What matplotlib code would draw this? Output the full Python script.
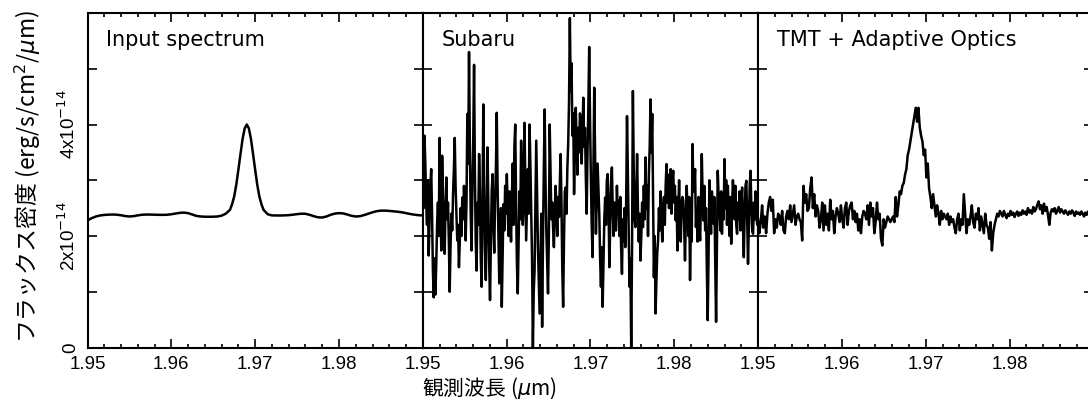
import numpy as np
import matplotlib.pyplot as plt
from matplotlib.ticker import MultipleLocator

plt.rcParams['font.family'] = ['Liberation Sans', 'Noto Sans CJK JP', 'DejaVu Sans']

# input (model) spectrum, flux in 1e-14 erg/s/cm2/um
wave_in = [1.9500, 1.9505, 1.9510, 1.9515, 1.9520, 1.9525, 1.9530, 1.9535, 1.9540, 1.9545,
           1.9550, 1.9555, 1.9560, 1.9565, 1.9570, 1.9575, 1.9580, 1.9585, 1.9590, 1.9595,
           1.9600, 1.9605, 1.9610, 1.9615, 1.9620, 1.9625, 1.9630, 1.9635, 1.9640, 1.9645,
           1.9650, 1.9655, 1.9660, 1.9665, 1.9670, 1.96725, 1.9675, 1.96775, 1.9680, 1.96825,
           1.9685, 1.96875, 1.9690, 1.96925, 1.9695, 1.96975, 1.9700, 1.97025, 1.9705, 1.97075,
           1.9710, 1.9715, 1.9720, 1.9725, 1.9730, 1.9735, 1.9740, 1.9745, 1.9750, 1.9755,
           1.9760, 1.9765, 1.9770, 1.9775, 1.9780, 1.9785, 1.9790, 1.9795, 1.9800, 1.9805,
           1.9810, 1.9815, 1.9820, 1.9825, 1.9830, 1.9835, 1.9840, 1.9845, 1.9850, 1.9855,
           1.9860, 1.9865, 1.9870, 1.9875, 1.9880, 1.9885, 1.9890, 1.9895, 1.9900]
flux_in = [2.280, 2.320, 2.350, 2.368, 2.378, 2.383, 2.385, 2.382, 2.372, 2.358,
           2.350, 2.356, 2.370, 2.381, 2.385, 2.384, 2.382, 2.380, 2.379, 2.381,
           2.390, 2.403, 2.415, 2.420, 2.410, 2.385, 2.360, 2.350, 2.346, 2.345,
           2.346, 2.350, 2.365, 2.400, 2.470, 2.570, 2.710, 2.920, 3.190, 3.470,
           3.740, 3.930, 4.000, 3.930, 3.740, 3.470, 3.190, 2.920, 2.710, 2.570,
           2.470, 2.390, 2.370, 2.368, 2.368, 2.370, 2.374, 2.382, 2.392, 2.400,
           2.398, 2.380, 2.355, 2.335, 2.332, 2.350, 2.380, 2.402, 2.410, 2.405,
           2.385, 2.362, 2.350, 2.355, 2.375, 2.400, 2.425, 2.445, 2.455, 2.455,
           2.450, 2.443, 2.435, 2.425, 2.410, 2.395, 2.382, 2.373, 2.368]

# simulated Subaru observation, 1.95-1.99 um on an even grid (10 per 0.001 um)
flux_subaru = [3.0, 2.5, 3.8, 3.3, 2.6, 2.2, 3.0, 1.65, 2.3, 2.9,
               3.2, 2.4, 1.4, 0.9, 1.6, 0.95, 1.5, 2.2, 2.6, 2.0,
               3.76, 2.6, 1.74, 3.44, 2.7, 2.2, 1.68, 2.5, 3.05, 2.3,
               2.6, 1.9, 1.0, 1.8, 2.4, 2.1, 2.75, 3.2, 3.76, 2.9,
               2.4, 1.92, 2.2, 1.44, 1.9, 2.5, 2.0, 2.69, 2.3, 2.9,
               2.5, 1.92, 2.6, 4.19, 3.3, 5.30, 3.6, 2.4, 1.74, 2.8,
               3.7, 5.07, 3.1, 1.9, 1.38, 2.6, 2.2, 3.47, 2.8, 1.6,
               1.09, 2.4, 4.36, 2.9, 1.8, 1.21, 2.3, 3.59, 2.6, 1.5,
               0.85, 1.9, 2.8, 3.11, 2.2, 1.7, 2.6, 3.2, 4.21, 2.9,
               2.0, 1.15, 1.8, 2.5, 0.73, 1.6, 2.57, 2.1, 2.9, 2.4,
               3.11, 2.5, 2.0, 2.8, 2.34, 1.9, 2.7, 3.3, 2.2, 3.6,
               4.0, 2.6, 1.5, 0.97, 1.9, 2.8, 2.3, 3.71, 2.9, 2.2,
               2.6, 4.03, 3.0, 1.92, 2.6, 3.2, 2.4, 4.0, 3.3, 2.5,
               1.6, 0.0, 1.0, 1.38, 2.6, 3.71, 2.7, 1.8, 1.2, 0.61,
               1.5, 2.4, 0.37, 1.9, 3.2, 4.27, 3.0, 2.1, 1.5, 0.97,
               2.0, 4.0, 3.1, 2.3, 2.6, 2.16, 1.8, 2.4, 2.9, 2.51,
               2.0, 2.7, 2.34, 2.9, 3.47, 2.6, 1.4, 0.73, 1.9, 2.8,
               2.87, 2.4, 3.2, 3.65, 4.4, 5.91, 4.6, 5.10, 3.8, 4.2,
               2.75, 3.6, 4.30, 3.7, 3.1, 3.94, 3.5, 4.2, 4.06, 3.3,
               3.8, 4.48, 3.6, 3.94, 3.05, 2.4, 3.5, 4.3, 5.39, 4.1,
               3.05, 2.2, 1.62, 3.2, 4.66, 3.5, 2.04, 2.7, 3.3, 2.87,
               2.4, 1.6, 1.09, 1.8, 0.73, 1.5, 2.3, 2.69, 2.2, 3.0,
               3.11, 2.6, 1.44, 2.2, 2.9, 3.23, 2.5, 2.0, 2.6, 2.1,
               2.10, 2.9, 2.4, 2.63, 2.0, 2.7, 1.8, 1.32, 2.3, 1.9,
               2.5, 1.8, 2.6, 4.15, 3.1, 2.0, 1.09, 1.6, 0.0, 1.8,
               4.60, 3.2, 2.3, 2.16, 2.7, 3.47, 2.5, 1.9, 2.4, 1.56,
               2.0, 2.6, 2.16, 2.9, 2.3, 3.41, 2.5, 2.9, 2.0, 3.1,
               3.6, 4.45, 3.5, 4.19, 2.8, 1.26, 2.0, 0.61, 1.2, 1.7,
               1.92, 2.5, 2.1, 2.8, 2.3, 1.9, 2.46, 2.7, 2.2, 2.9,
               3.29, 2.6, 3.1, 2.5, 2.87, 3.2, 2.4, 3.0, 3.17, 2.6,
               2.9, 2.28, 2.7, 1.74, 2.4, 3.0, 2.2, 1.9, 2.6, 2.7,
               2.63, 2.2, 1.56, 2.3, 2.9, 2.51, 2.0, 2.7, 1.21, 2.2,
               1.9, 3.65, 2.8, 2.87, 3.2, 2.16, 2.5, 1.9, 2.7, 2.2,
               1.92, 2.6, 3.47, 2.7, 2.28, 2.9, 2.1, 2.5, 1.4, 0.49,
               1.6, 3.0, 2.4, 2.04, 2.8, 2.5, 2.22, 2.7, 1.5, 0.46,
               1.9, 3.17, 2.7, 2.51, 2.1, 2.8, 2.04, 2.6, 2.3, 3.38,
               2.5, 3.0, 2.2, 2.9, 2.40, 2.0, 2.7, 1.86, 2.5, 3.0,
               2.75, 2.3, 2.9, 2.2, 2.04, 2.6, 2.3, 2.8, 2.1, 2.6,
               2.87, 2.2, 1.62, 2.4, 2.9, 2.99, 2.3, 1.50, 2.2, 2.9,
               3.17, 2.5, 2.1, 2.04, 2.6, 2.3, 2.8, 2.34, 2.2, 2.4]

# simulated TMT + AO observation, 1.95-1.99 um on an even grid
flux_tmt = [2.30, 2.05, 2.25, 2.55, 2.15, 2.35, 2.05, 2.40, 2.60, 2.70,
            2.45, 2.65, 2.05, 2.30, 2.15, 2.40, 2.35, 2.20, 2.45, 2.10,
            2.05, 2.35, 2.45, 2.30, 2.55, 2.25, 2.40, 2.55, 2.20, 2.35,
            2.40, 2.30, 2.25, 1.92, 2.90, 2.60, 2.75, 2.45, 2.50, 2.85,
            3.05, 2.50, 2.75, 2.35, 2.55, 2.45, 2.15, 2.30, 2.60, 2.10,
            2.55, 2.20, 2.40, 2.10, 2.65, 2.30, 2.45, 2.05, 2.35, 2.50,
            2.40, 2.25, 2.55, 2.30, 2.15, 2.50, 2.60, 2.20, 2.45, 2.55,
            2.60, 2.30, 2.45, 2.25, 2.40, 2.10, 2.30, 2.05, 2.35, 2.45,
            2.40, 2.30, 2.55, 2.20, 2.60, 2.35, 2.50, 2.05, 2.25, 2.60,
            2.30, 2.40, 1.95, 1.83, 2.30, 2.15, 2.25, 2.35, 2.30, 2.25,
            2.30, 2.35, 2.25, 2.70, 2.35, 2.55, 2.80, 2.75, 2.90, 2.95,
            3.10, 3.20, 3.45, 3.55, 3.70, 3.85, 4.00, 4.15, 4.30, 4.05,
            4.30, 3.95, 3.80, 3.70, 3.45, 3.55, 3.05, 3.30, 2.85, 2.70,
            2.50, 2.75, 2.55, 2.35, 2.55, 2.40, 2.20, 2.45, 2.30, 2.40,
            2.35, 2.30, 2.40, 2.20, 2.35, 2.25, 2.30, 2.15, 2.05, 2.30,
            2.40, 2.10, 2.30, 2.20, 2.75, 2.40, 2.05, 2.30, 2.20, 2.35,
            2.55, 2.25, 2.15, 2.40, 2.30, 2.50, 2.10, 2.35, 2.20, 2.05,
            2.40, 2.20, 2.15, 1.95, 2.25, 1.74, 2.05, 2.20, 2.30, 2.40,
            2.35, 2.45, 2.40, 2.35, 2.45, 2.38, 2.32, 2.40, 2.36, 2.45,
            2.38, 2.42, 2.34, 2.40, 2.44, 2.36, 2.42, 2.38, 2.46, 2.40,
            2.44, 2.38, 2.50, 2.42, 2.46, 2.40, 2.52, 2.44, 2.48, 2.56,
            2.62, 2.48, 2.55, 2.40, 2.58, 2.45, 2.52, 2.38, 2.20, 2.42,
            2.48, 2.44, 2.50, 2.40, 2.46, 2.52, 2.42, 2.48, 2.44, 2.40,
            2.46, 2.42, 2.38, 2.44, 2.40, 2.46, 2.42, 2.36, 2.44, 2.40,
            2.42, 2.38, 2.44, 2.40, 2.35, 2.42, 2.38, 2.44, 2.40, 2.42,
            2.40, 2.42]

titles = ['Input spectrum', 'Subaru', 'TMT + Adaptive Optics']
xticks = [1.95, 1.96, 1.97, 1.98, 1.99]
xticklabels = ['1.95', '1.96', '1.97', '1.98', '']
yticks = [0, 1e-14, 2e-14, 3e-14, 4e-14, 5e-14, 6e-14]
yticklabels = ['0', '', r'2x10$^{-14}$', '', r'4x10$^{-14}$', '', '']

series = [(np.array(wave_in), np.array(flux_in) * 1e-14),
          (np.linspace(1.95, 1.99, len(flux_subaru)), np.array(flux_subaru) * 1e-14),
          (np.linspace(1.95, 1.99, len(flux_tmt)), np.array(flux_tmt) * 1e-14)]

fig = plt.figure(figsize=(10.88, 4.07), dpi=100)
left = 87.5 / 1088
w = 335.3 / 1088
bottom = 1 - 347.5 / 407
h = (347.5 - 13) / 407

for i, (x, y) in enumerate(series):
    ax = fig.add_axes([left + i * w, bottom, w, h])
    ax.plot(x, y, color='black', lw=1.8)
    ax.set_xlim(1.95, 1.99)
    ax.set_ylim(0, 6e-14)
    ax.set_xticks(xticks)
    ax.set_xticklabels(xticklabels)
    ax.xaxis.set_minor_locator(MultipleLocator(0.002))
    ax.set_yticks(yticks)
    if i == 0:
        ax.set_yticklabels(yticklabels, rotation=90, va='center')
    else:
        ax.set_yticklabels([])
    ax.tick_params(which='both', direction='in', top=True, right=True,
                   width=1.2, labelsize=13.5, pad=6)
    ax.tick_params(axis='x', which='major', length=6.5)
    ax.tick_params(axis='x', which='minor', length=3.2)
    ax.tick_params(axis='y', which='major', length=6.5)
    for s in ax.spines.values():
        s.set_linewidth(1.5)
    ax.text(0.055, 0.9, titles[i], transform=ax.transAxes, fontsize=15,
            family=['DejaVu Sans'], va='baseline', ha='left')

fig.text(28 / 1088, 1 - 177 / 407, 'フラックス密度 (erg/s/cm$^2$/$\\mu$m)',
         rotation=90, ha='center', va='center', fontsize=16.5,
         family=['Noto Sans CJK JP'])
fig.text(489 / 1088, 1 - 388 / 407, '観測波長 ($\\mu$m)',
         ha='center', va='center', fontsize=15, family=['Noto Sans CJK JP'])

fig.savefig('out.png', dpi=100)
